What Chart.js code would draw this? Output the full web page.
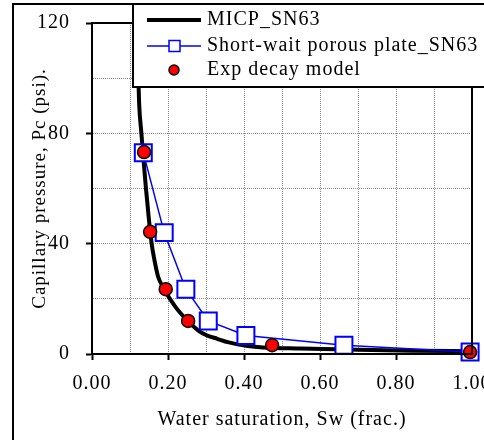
<!DOCTYPE html>
<html lang="en">
<head>
    <meta charset="UTF-8">
    <title>Capillary pressure vs water saturation</title>
    <script src="https://cdn.jsdelivr.net/npm/chart.js"></script>
    <style>
        body { margin: 0; background: #fff; }
    </style>
</head>
<body>
    <canvas id="pcChart" width="484" height="440"></canvas>
    <script>
        // MICP curve (black)
        const micpSw = [0.118, 0.121, 0.124, 0.130, 0.134, 0.142, 0.150, 0.157, 0.163, 0.174, 0.190, 0.220, 0.250, 0.280, 0.300, 0.330, 0.360, 0.410, 0.450, 0.550, 0.700, 0.850, 0.995];
        const micpPc = [120, 105, 91, 80, 73, 60, 48.5, 40, 35, 28, 23.5, 17, 12.3, 8.5, 6.9, 5.5, 4.2, 2.9, 2.4, 2.0, 1.5, 1.2, 1.0];

        // Short-wait porous plate (blue squares)
        const plateSw = [0.135, 0.190, 0.247, 0.306, 0.405, 0.663, 0.995];
        const platePc = [73, 44, 23.5, 12, 6.7, 3.2, 0.7];

        // Exp decay model (red dots)
        const expSw = [0.137, 0.153, 0.194, 0.253, 0.474, 0.995];
        const expPc = [73.2, 44.3, 23.5, 12, 3.2, 0.7];

        const labels = ['MICP_SN63', 'Short-wait porous plate_SN63', 'Exp decay model'];

        const toPoints = (xs, ys) => xs.map((x, i) => ({ x: x, y: ys[i] }));

        Chart.defaults.font.family = '"Liberation Serif", "Times New Roman", serif';
        Chart.defaults.font.size = 20;
        Chart.defaults.color = '#000';

        const spacing = {
            id: 'spacing',
            beforeLayout(chart) { chart.ctx.letterSpacing = '1px'; },
            beforeDraw(chart) { chart.ctx.letterSpacing = '1px'; }
        };

        const frame = {
            id: 'frame',
            beforeDraw(chart) {
                const ctx = chart.ctx;
                ctx.save();
                ctx.fillStyle = '#fff';
                ctx.fillRect(0, 0, chart.width, chart.height);
                ctx.strokeStyle = '#000';
                ctx.lineWidth = 2;
                ctx.strokeRect(13, 4, chart.width, chart.height);
                ctx.restore();
            },
            afterDatasetsDraw(chart) {
                // plot area border
                const a = chart.chartArea;
                const ctx = chart.ctx;
                ctx.save();
                ctx.strokeStyle = '#000';
                ctx.lineWidth = 2;
                ctx.strokeRect(a.left, a.top, a.right - a.left, a.bottom - a.top);
                ctx.restore();
            },
            afterDraw(chart) {
                // boxed legend in the top right corner
                const ctx = chart.ctx;
                ctx.save();
                ctx.fillStyle = '#fff';
                ctx.fillRect(133, 4, chart.width, 83);
                ctx.strokeStyle = '#000';
                ctx.lineWidth = 2;
                ctx.strokeRect(133, 4, chart.width, 83);

                const rows = [20, 46, 70];
                ctx.font = '20px "Liberation Serif", serif';
                ctx.textBaseline = 'middle';
                ctx.fillStyle = '#000';
                chart.data.datasets.forEach((ds, i) => {
                    const y = rows[i];
                    if (ds.showLine !== false) {
                        ctx.beginPath();
                        ctx.moveTo(147, y);
                        ctx.lineTo(201, y);
                        ctx.strokeStyle = ds.borderColor;
                        ctx.lineWidth = ds.borderWidth;
                        ctx.stroke();
                    }
                    if (ds.pointStyle === 'rect') {
                        ctx.fillStyle = '#fff';
                        ctx.fillRect(169, y - 5.5, 11, 11);
                        ctx.strokeStyle = ds.pointBorderColor;
                        ctx.lineWidth = 1.5;
                        ctx.strokeRect(169, y - 5.5, 11, 11);
                    } else if (ds.pointStyle === 'circle') {
                        ctx.beginPath();
                        ctx.arc(174, y, 5, 0, Math.PI * 2);
                        ctx.fillStyle = ds.pointBackgroundColor;
                        ctx.fill();
                        ctx.strokeStyle = '#000';
                        ctx.lineWidth = 1.5;
                        ctx.stroke();
                    }
                    ctx.fillStyle = '#000';
                    ctx.fillText(ds.label, 207, y);
                });
                ctx.restore();
            }
        };

        const ctx = document.getElementById('pcChart').getContext('2d');
        new Chart(ctx, {
            type: 'scatter',
            data: {
                datasets: [
                    {
                        label: labels[0],
                        data: toPoints(micpSw, micpPc),
                        showLine: true,
                        borderColor: '#000',
                        borderWidth: 4,
                        pointRadius: 0,
                        pointStyle: false,
                        cubicInterpolationMode: 'monotone',
                        order: 2
                    },
                    {
                        label: labels[1],
                        data: toPoints(plateSw, platePc),
                        showLine: true,
                        borderColor: '#0000ff',
                        borderWidth: 1.5,
                        pointStyle: 'rect',
                        pointRadius: 12,
                        pointBorderWidth: 2,
                        pointBorderColor: '#0000ff',
                        pointBackgroundColor: '#fff',
                        clip: false,
                        order: 1
                    },
                    {
                        label: labels[2],
                        data: toPoints(expSw, expPc),
                        showLine: false,
                        pointStyle: 'circle',
                        pointRadius: 6.5,
                        pointBorderWidth: 1.5,
                        pointBorderColor: '#000',
                        pointBackgroundColor: '#ff0000',
                        clip: false,
                        order: 0
                    }
                ]
            },
            options: {
                responsive: false,
                animation: false,
                layout: { autoPadding: false, padding: { left: 0, top: 23, right: 12, bottom: 0 } },
                plugins: {
                    legend: { display: false },
                    tooltip: { enabled: false }
                },
                scales: {
                    x: {
                        type: 'linear',
                        min: 0,
                        max: 1,
                        afterFit(scale) {
                            scale.height = 86;
                            scale.paddingLeft = 0;
                            scale.paddingRight = 0;
                        },
                        ticks: {
                            stepSize: 0.1,
                            padding: 12,
                            maxRotation: 0,
                            autoSkip: false,
                            callback: v => Math.round(v * 10) % 2 === 0 ? v.toFixed(2) : ''
                        },
                        grid: {
                            color: '#8a8a8a',
                            lineWidth: 1,
                            tickLength: 6,
                            tickWidth: 2,
                            tickColor: c => Math.round(c.tick.value * 10) % 2 === 0 ? '#000' : 'rgba(0,0,0,0)'
                        },
                        border: { color: '#000', width: 2, dash: [1, 1] },
                        title: {
                            display: true,
                            text: 'Water saturation, Sw (frac.)',
                            font: { size: 20 },
                            padding: { top: 0, bottom: 8 }
                        }
                    },
                    y: {
                        type: 'linear',
                        min: 0,
                        max: 120,
                        afterFit(scale) {
                            scale.width = 92;
                            scale.paddingTop = 0;
                            scale.paddingBottom = 0;
                        },
                        ticks: {
                            stepSize: 20,
                            padding: 16,
                            callback: v => v % 40 === 0 ? String(v) : ''
                        },
                        grid: {
                            color: '#8a8a8a',
                            lineWidth: 1,
                            tickLength: 6,
                            tickWidth: 2,
                            tickColor: c => c.tick.value % 40 === 0 ? '#000' : 'rgba(0,0,0,0)'
                        },
                        border: { color: '#000', width: 2, dash: [1, 1] },
                        title: {
                            display: true,
                            text: 'Capillary pressure, Pc (psi).',
                            font: { size: 19 },
                            padding: { top: 29, bottom: 0 }
                        }
                    }
                }
            },
            plugins: [spacing, frame]
        });
    </script>
</body>
</html>
